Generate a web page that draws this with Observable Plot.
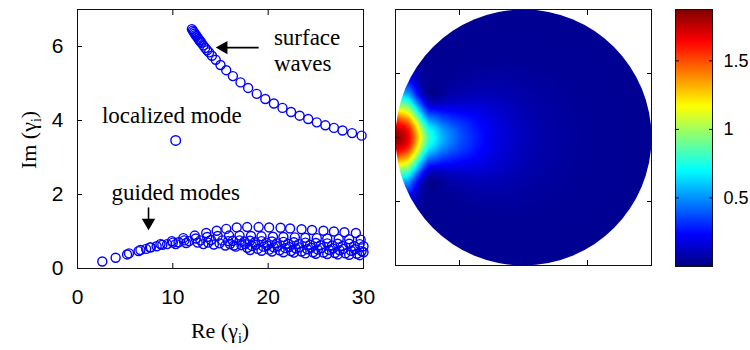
<!DOCTYPE html>
<html><head><meta charset="utf-8">
<script src="https://cdn.jsdelivr.net/npm/d3@7"></script>
<script src="https://cdn.jsdelivr.net/npm/@observablehq/plot@0.6"></script>
<style>
body{margin:0;background:#fff;}
#wrap{position:relative;width:750px;height:350px;overflow:hidden;background:#fff;}
#wrap svg{position:absolute;top:0;}
</style></head><body><div id="wrap"></div>
<script>
// ---------- left panel data ----------
const surfRe = [12.0,12.1,12.2,12.3,12.4,12.5,12.6,12.7,12.8,12.9,13.0,13.2,13.4,13.6,13.8,14.1,14.5,15.0,15.6,16.3,17.1,17.9,18.8,19.7,20.6,21.5,22.4,23.3,24.2,25.1,26.0,26.9,27.8,28.8,29.8];
const surfIm = [6.47,6.43,6.39,6.35,6.31,6.28,6.24,6.20,6.17,6.13,6.10,6.03,5.96,5.90,5.84,5.75,5.64,5.50,5.36,5.20,5.03,4.88,4.72,4.58,4.46,4.34,4.23,4.13,4.04,3.95,3.87,3.80,3.73,3.66,3.59];
const locRe = [10.3];
const locIm = [3.46];
const g1Re = [2.6,4.0,5.2,6.4,7.6,8.7,9.9,11.1,12.3,13.5,14.6,15.6,16.7,17.8,19.0,20.1,21.3,22.3,23.5,24.6,25.8,26.9,28.0,29.2];
const g1Im = [0.19,0.29,0.38,0.47,0.57,0.66,0.74,0.82,0.89,0.96,1.02,1.07,1.11,1.12,1.12,1.11,1.10,1.08,1.06,1.04,1.02,1.00,0.98,0.96];
const g2Re = [5.4,6.6,7.7,8.9,10.0,11.2,12.4,13.6,14.7,15.9,17.0,18.2,19.3,20.5,21.6,22.8,23.9,25.1,26.2,27.4,28.5,29.7];
const g2Im = [0.41,0.50,0.57,0.64,0.70,0.76,0.81,0.85,0.88,0.89,0.89,0.88,0.87,0.86,0.85,0.84,0.83,0.82,0.81,0.80,0.79,0.78];
const g3Re = [7.2,8.3,9.4,10.6,11.7,12.9,14.0,15.2,16.3,17.5,18.6,19.8,20.9,22.1,23.2,24.4,25.5,26.7,27.8,29.0,30.0];
const g3Im = [0.53,0.60,0.66,0.71,0.74,0.76,0.77,0.76,0.75,0.73,0.71,0.70,0.68,0.67,0.66,0.64,0.63,0.62,0.61,0.60,0.60];
const g4Re = [10.3,11.4,12.6,13.7,14.9,16.0,17.2,18.3,19.5,20.6,21.8,22.9,24.1,25.2,26.4,27.5,28.7,29.8];
const g4Im = [0.66,0.69,0.70,0.70,0.68,0.66,0.63,0.61,0.59,0.57,0.55,0.54,0.52,0.51,0.50,0.49,0.48,0.47];
const g5Re = [13.2,14.3,15.5,16.6,17.8,18.9,20.1,21.2,22.4,23.5,24.7,25.8,27.0,28.1,29.3,30.0];
const g5Im = [0.66,0.65,0.62,0.59,0.56,0.53,0.51,0.49,0.47,0.46,0.44,0.43,0.42,0.41,0.40,0.44];
const g6Re = [16.4,17.6,18.7,19.9,21.0,22.2,23.3,24.5,25.6,26.8,27.9,29.1];
const g6Im = [0.62,0.66,0.64,0.62,0.60,0.58,0.57,0.56,0.55,0.54,0.53,0.52];
const g7Re = [18.1,19.3,20.4,21.6,22.7,23.9,25.0,26.2,27.3,28.5,29.6];
const g7Im = [0.50,0.48,0.46,0.44,0.43,0.41,0.40,0.39,0.38,0.37,0.36];
const g8Re = [15.8,17.0,18.1,19.3,20.4,21.6,22.7,23.9,25.0,26.2,27.3,28.5,29.6];
const g8Im = [0.74,0.76,0.75,0.74,0.73,0.72,0.71,0.70,0.69,0.68,0.67,0.67,0.66];

const xTicks = [0, 10, 20, 30];
const yTicks = [0, 2, 4, 6];

const noteStartText = ["surface", "waves"];
const noteStartX = [20.6, 20.6];
const noteStartY = [6.24, 5.54];
const noteMidText = ["localized mode", "guided modes"];
const noteMidX = [9.9, 10.3];
const noteMidY = [4.13, 2.05];
const arrowLeft = {x1: 19.0, y1: 5.97, x2: 15.6, y2: 5.97, tx: 14.5, ty: 5.97};
const arrowDown = {x1: 7.45, y1: 1.65, x2: 7.45, y2: 1.30, tx: 7.45, ty: 1.03};

// ---------- middle panel (field on the disk), half grid y >= 0, mirrored ----------
const fieldX = [-1.02,-0.98,-0.94,-0.90,-0.86,-0.82,-0.78,-0.74,-0.70,-0.64,-0.56,-0.48,-0.38,-0.25,-0.10,0.10,0.40,0.70,1.02];
const fieldY = [0,0.045,0.09,0.14,0.2,0.27,0.35,0.45,0.6,0.8,1.02];
const fieldV = [
 [1.87,1.84,1.78,1.68,1.50,1.25,1.00,0.80,0.72,0.57,0.46,0.37,0.29,0.20,0.14,0.085,0.05,0.038,0.035],
 [1.83,1.80,1.74,1.65,1.46,1.21,0.96,0.76,0.68,0.55,0.45,0.36,0.285,0.198,0.139,0.085,0.05,0.038,0.035],
 [1.72,1.69,1.64,1.55,1.36,1.10,0.85,0.66,0.60,0.49,0.40,0.34,0.27,0.19,0.135,0.083,0.049,0.038,0.035],
 [1.53,1.51,1.46,1.38,1.18,0.93,0.68,0.51,0.47,0.39,0.33,0.29,0.245,0.18,0.13,0.081,0.049,0.038,0.035],
 [1.25,1.23,1.19,1.12,0.92,0.68,0.46,0.32,0.30,0.26,0.24,0.22,0.20,0.16,0.12,0.077,0.048,0.038,0.035],
 [0.90,0.89,0.86,0.81,0.62,0.42,0.26,0.13,0.10,0.11,0.13,0.14,0.145,0.13,0.105,0.07,0.046,0.038,0.035],
 [0.55,0.55,0.53,0.50,0.35,0.20,0.07,0.012,0.015,0.035,0.075,0.085,0.095,0.095,0.085,0.064,0.044,0.037,0.035],
 [0.27,0.26,0.26,0.24,0.16,0.09,0.05,0.04,0.039,0.04,0.045,0.052,0.062,0.068,0.066,0.055,0.042,0.036,0.035],
 [0.09,0.09,0.085,0.08,0.055,0.042,0.036,0.035,0.035,0.035,0.035,0.036,0.038,0.042,0.044,0.042,0.038,0.035,0.035],
 [0.035,0.035,0.035,0.035,0.035,0.035,0.035,0.035,0.035,0.035,0.035,0.035,0.035,0.035,0.035,0.035,0.035,0.035,0.035],
 [0.035,0.035,0.035,0.035,0.035,0.035,0.035,0.035,0.035,0.035,0.035,0.035,0.035,0.035,0.035,0.035,0.035,0.035,0.035]
];
const diskTicks = [-0.5, 0, 0.5];

// ---------- colorbar ----------
const cbDomain = [0, 1.875];
const cbTicks = [0.5, 1, 1.5];
const jetStops = [0, 0.234, 0.703, 1.172, 1.641, 1.875];
const jetColors = ["#00007f", "#0000ff", "#00ffff", "#ffff00", "#ff0000", "#7f0000"];

const axisLabelX = ["Re (γ", "i", ")"];
const axisLabelY = ["Im (γ", "i", ")"];

// ---------- build tables ----------
const zip = (xs, ys) => xs.map((x, i) => ({x, y: ys[i]}));
const surf = zip(surfRe, surfIm);
const loc = zip(locRe, locIm);
const guided = [zip(g1Re,g1Im), zip(g2Re,g2Im), zip(g3Re,g3Im), zip(g4Re,g4Im), zip(g5Re,g5Im), zip(g6Re,g6Im), zip(g7Re,g7Im), zip(g8Re,g8Im)].flat();
const notesStart = noteStartText.map((t, i) => ({t, x: noteStartX[i], y: noteStartY[i]}));
const notesMid = noteMidText.map((t, i) => ({t, x: noteMidX[i], y: noteMidY[i]}));
const field = [];
fieldY.forEach((yy, j) => fieldX.forEach((xx, i) => {
  field.push({x: xx, y: yy, v: fieldV[j][i]});
  if (yy > 0) field.push({x: xx, y: -yy, v: fieldV[j][i]});
}));

const SANS = "'Liberation Sans', Arial, sans-serif";
const SERIF = "'Liberation Serif', 'Times New Roman', serif";
const BLUE = "#0000ff";
const jet = {type: "linear", domain: jetStops, range: jetColors, interpolate: "rgb", clamp: true};

const wrap = document.getElementById("wrap");

// ---------- left plot ----------
const left = Plot.plot({
  width: 380, height: 350,
  marginLeft: 77, marginRight: 17, marginTop: 9, marginBottom: 82,
  style: {fontFamily: SANS, fontSize: "21px", color: "black", background: "transparent"},
  x: {domain: [0, 30]},
  y: {domain: [0, 7]},
  marks: [
    Plot.axisX(xTicks, {anchor: "bottom", tickSize: 0, tickPadding: 21, fontSize: 21, label: null}),
    Plot.axisY(yTicks, {anchor: "left", tickSize: 0, tickPadding: 14, fontSize: 21, label: null}),
    Plot.axisX(xTicks.slice(1, -1), {anchor: "bottom", tickSize: -5, tickFormat: () => "", label: null}),
    Plot.axisX(xTicks.slice(1, -1), {anchor: "top", tickSize: -5, tickFormat: () => "", label: null}),
    Plot.axisY(yTicks.slice(1), {anchor: "left", tickSize: -5, tickFormat: () => "", label: null}),
    Plot.axisY(yTicks.slice(1), {anchor: "right", tickSize: -5, tickFormat: () => "", label: null}),
    Plot.frame({stroke: "#111"}),
    Plot.dot(guided, {x: "x", y: "y", r: 4.5, stroke: BLUE, strokeWidth: 1.4, fill: "none"}),
    Plot.dot(surf, {x: "x", y: "y", r: 4.5, stroke: BLUE, strokeWidth: 1.4, fill: "none"}),
    Plot.dot(loc, {x: "x", y: "y", r: 4.8, stroke: BLUE, strokeWidth: 1.4, fill: "none"}),
    Plot.text(notesStart, {x: "x", y: "y", text: "t", textAnchor: "start", fontFamily: SERIF, fontSize: 23, fill: "black"}),
    Plot.text(notesMid, {x: "x", y: "y", text: "t", textAnchor: "middle", fontFamily: SERIF, fontSize: 23, fill: "black"}),
    Plot.link([arrowLeft, arrowDown], {x1: "x1", y1: "y1", x2: "x2", y2: "y2", stroke: "black", strokeWidth: 1.6}),
    Plot.dot([arrowLeft], {x: "tx", y: "ty", symbol: "triangle", r: 5, rotate: -90, dx: 7.8, fill: "black", stroke: "none"}),
    Plot.dot([arrowDown], {x: "tx", y: "ty", symbol: "triangle", r: 5, rotate: 180, dy: -7.8, fill: "black", stroke: "none"})
  ]
});
left.style.left = "0px";
wrap.appendChild(left);

function addLabel(svg, x, y, rot, parts) {
  const t = d3.select(svg).append("text")
    .attr("transform", `translate(${x},${y})` + (rot ? ` rotate(${rot})` : ""))
    .attr("text-anchor", "middle").attr("font-family", SERIF).attr("font-size", 22).attr("fill", "black");
  t.append("tspan").text(parts[0]);
  t.append("tspan").attr("font-size", 14).attr("dy", 5).text(parts[1]);
  t.append("tspan").attr("dy", -5).text(parts[2]);
}
addLabel(left, 220, 338, 0, axisLabelX);
addLabel(left, 36, 140, -90, axisLabelY);

// ---------- middle plot ----------
const mid = Plot.plot({
  width: 280, height: 350,
  marginLeft: 10, marginRight: 14, marginTop: 9, marginBottom: 85,
  style: {background: "transparent", color: "black"},
  x: {domain: [-1, 1]},
  y: {domain: [-1, 1]},
  color: jet,
  marks: [
    Plot.raster(field, {x: "x", y: "y", fill: "v", interpolate: "barycentric", pixelSize: 1}),
    Plot.axisX(diskTicks, {anchor: "bottom", tickSize: -5, tickFormat: () => "", label: null}),
    Plot.axisX(diskTicks, {anchor: "top", tickSize: -5, tickFormat: () => "", label: null}),
    Plot.axisY(diskTicks, {anchor: "left", tickSize: -5, tickFormat: () => "", label: null}),
    Plot.axisY(diskTicks, {anchor: "right", tickSize: -5, tickFormat: () => "", label: null}),
    Plot.frame({stroke: "#111"})
  ]
});
{
  const sx = mid.scale("x"), sy = mid.scale("y");
  const cx = sx.apply(0), cy = sy.apply(0), r = sx.apply(1) - sx.apply(0);
  const s = d3.select(mid);
  s.append("defs").append("clipPath").attr("id", "diskclip")
    .append("circle").attr("cx", cx).attr("cy", cy).attr("r", r);
  const img = s.select("image").node();
  if (img) {
    const g = document.createElementNS("http://www.w3.org/2000/svg", "g");
    g.setAttribute("clip-path", "url(#diskclip)");
    img.parentNode.insertBefore(g, img);
    g.appendChild(img);
  }
}
mid.style.left = "385px";
wrap.appendChild(mid);

// ---------- colorbar ----------
const cb = Plot.plot({
  width: 90, height: 350,
  marginLeft: 15, marginRight: 38, marginTop: 9, marginBottom: 84,
  style: {fontFamily: SANS, fontSize: "18px", background: "transparent", color: "black"},
  x: {domain: [0, 1], axis: null},
  y: {domain: cbDomain},
  color: jet,
  marks: [
    Plot.raster({fill: (x, y) => y, x1: 0, x2: 1, y1: cbDomain[0], y2: cbDomain[1], pixelSize: 1}),
    Plot.axisY(cbTicks, {anchor: "right", tickSize: 0, tickPadding: 11, fontSize: 18, tickFormat: d => String(d), label: null}),
    Plot.axisY(cbTicks, {anchor: "left", tickSize: -4, tickFormat: () => "", label: null}),
    Plot.axisY(cbTicks, {anchor: "right", tickSize: -4, tickFormat: () => "", label: null}),
    Plot.frame({stroke: "#111"})
  ]
});
cb.style.left = "660px";
wrap.appendChild(cb);
</script></body></html>
